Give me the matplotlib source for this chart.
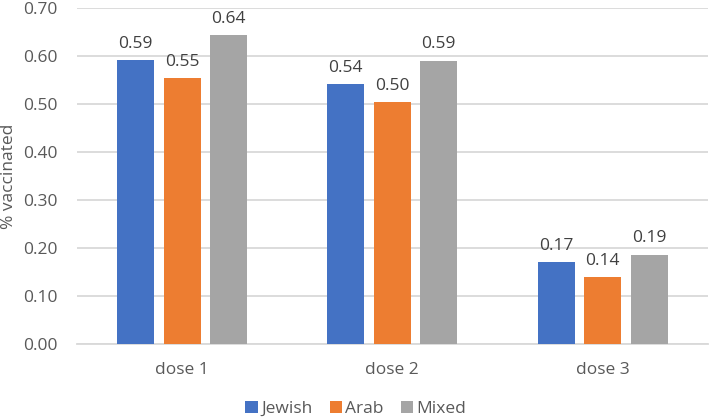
import matplotlib
matplotlib.use("Agg")
import matplotlib.pyplot as plt
import numpy as np

plt.rcParams['font.family'] = ['Open Sans', 'DejaVu Sans']

doses = ["dose 1", "dose 2", "dose 3"]
jewish = [0.591, 0.541, 0.171]
arab = [0.554, 0.504, 0.140]
mixed = [0.644, 0.590, 0.187]

series = [("Jewish", jewish, "#4472C4"),
          ("Arab", arab, "#ED7D31"),
          ("Mixed", mixed, "#A5A5A5")]

text_color = "#595959"
grid_color = "#D9D9D9"

fig = plt.figure(figsize=(7.12, 4.18), dpi=100)
ax = fig.add_axes([0.108, 0.176, 0.886, 0.805])

x = np.arange(len(doses))
width = 0.176
step = 0.221
for i, (name, vals, color) in enumerate(series):
    pos = x + (i - 1) * step
    bars = ax.bar(pos, vals, width, color=color, label=name, zorder=3)
    for b, v in zip(bars, vals):
        ax.annotate(f"{v:.2f}", (b.get_x() + b.get_width() / 2, v),
                    xytext=(0, 6), textcoords="offset points",
                    ha="center", va="bottom", fontsize=12.5, color="#404040")

ax.set_xlim(-0.5, 2.5)
ax.set_ylim(0, 0.70)
ax.set_yticks(np.arange(0, 0.71, 0.10))
ax.set_yticklabels([f"{t:.2f}" for t in np.arange(0, 0.71, 0.10)])
ax.set_xticks(x)
ax.set_xticklabels(doses)
ax.yaxis.grid(True, color=grid_color, linewidth=1.3, zorder=0)
for s in ["top", "right", "left"]:
    ax.spines[s].set_visible(False)
ax.spines["bottom"].set_color(grid_color)
ax.spines["bottom"].set_linewidth(1.3)
ax.tick_params(axis="both", length=0, labelsize=12.5, colors=text_color)
ax.tick_params(axis="x", pad=13)
ax.tick_params(axis="y", pad=14)

# y label placed in figure coords so it stays inside the canvas
fig.text(0.002, 0.578, "% vaccinated", rotation=90, ha="left", va="center",
         fontsize=12.5, color=text_color)

leg = fig.legend(loc="lower center", bbox_to_anchor=(0.5, -0.035), ncol=3,
                 frameon=False, fontsize=12.5, handlelength=0.7, handleheight=0.7,
                 handletextpad=0.2, columnspacing=1.0, labelcolor=text_color)

fig.savefig("out.png", dpi=100)
